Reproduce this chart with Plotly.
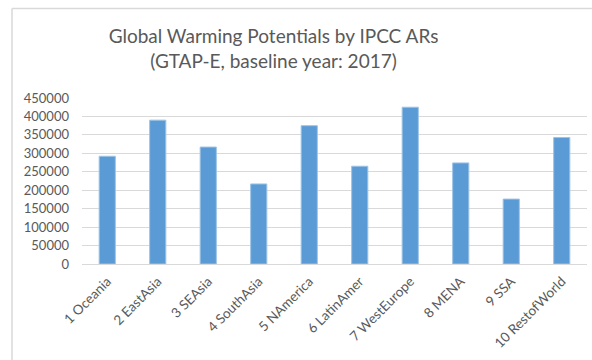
import plotly.graph_objects as go

# Regions and their global warming potentials (GTAP-E, baseline 2017)
regions = ["1 Oceania", "2 EastAsia", "3 SEAsia", "4 SouthAsia", "5 NAmerica",
           "6 LatinAmer", "7 WestEurope", "8 MENA", "9 SSA", "10 RestofWorld"]
gwp = [292000, 390000, 317000, 217000, 375000,
       265000, 425000, 274000, 176000, 343000]
y_ticks = list(range(0, 450001, 50000))

W, H = 592, 360
ML, MR, MT, MB = 82, 5, 98, 96
plot_w = W - ML - MR
plot_h = H - MT - MB

GRAY_TEXT = "#595959"
GRID = "#d9d9d9"
FONT = "Lato, 'Open Sans', sans-serif"

fig = go.Figure(
    go.Bar(
        x=regions,
        y=gwp,
        marker=dict(color="#5b9bd5", line=dict(color="#9dc3e6", width=1)),
        width=0.32,
    )
)

# chart-area frame (left and top edges)
fx = lambda px: (px - ML) / plot_w
fy = lambda py: (H - MB - py) / plot_h
shapes = [
    dict(type="line", xref="paper", yref="paper", x0=fx(12), x1=fx(600),
         y0=fy(8.5), y1=fy(8.5), line=dict(color=GRID, width=1.5)),
    dict(type="line", xref="paper", yref="paper", x0=fx(12), x1=fx(12),
         y0=fy(8.5), y1=fy(370), line=dict(color=GRID, width=1.5)),
]

fig.update_layout(
    width=W, height=H,
    margin=dict(l=ML, r=MR, t=MT, b=MB),
    paper_bgcolor="white", plot_bgcolor="white",
    showlegend=False,
    font=dict(family=FONT, color=GRAY_TEXT),
    title=dict(
        text="Global Warming Potentials by IPCC ARs<br>(GTAP-E, baseline year: 2017)",
        x=273.5 / W, xanchor="center", xref="container",
        y=1 - 43 / H, yanchor="top", yref="container",
        font=dict(size=19, color=GRAY_TEXT, family=FONT),
    ),
    xaxis=dict(
        tickangle=-45, tickfont=dict(size=13.5, color=GRAY_TEXT),
        showgrid=False, showline=False, zeroline=False, ticks="",
        ticklabelstandoff=6,
    ),
    yaxis=dict(
        range=[0, 450000], tickvals=y_ticks, tickformat="d",
        tickfont=dict(size=13, color=GRAY_TEXT),
        showgrid=True, gridcolor=GRID, gridwidth=1.3,
        zeroline=True, zerolinecolor=GRID, zerolinewidth=1.3,
        showline=False, ticks="", ticklabelstandoff=12,
    ),
    shapes=shapes,
    bargap=0.68,
)

fig.write_html("out.html")
